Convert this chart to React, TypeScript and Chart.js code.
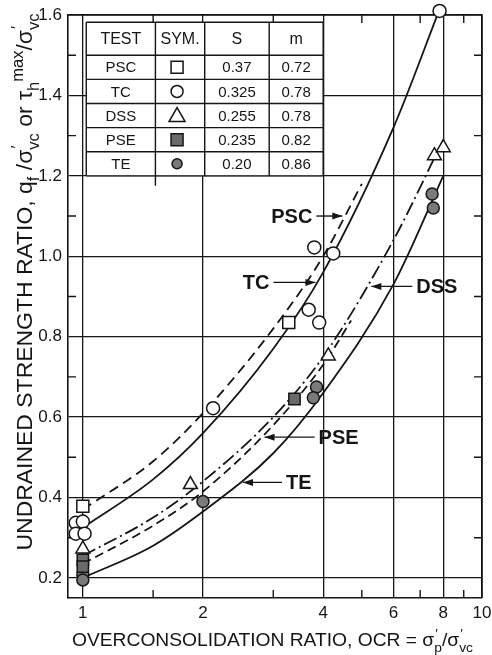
import React, { useEffect, useRef } from "react";
import { Chart, registerables } from "chart.js";

Chart.register(...registerables);

// ---------- axis ticks ----------
const X_TICKS = [1, 2, 4, 6, 8, 10];
const X_MINOR = [1.5, 3, 5, 7, 9];
const Y_TICKS = [0.2, 0.4, 0.6, 0.8, 1.0, 1.2, 1.4, 1.6];
const Y_MINOR = [0.3, 0.5, 0.7, 0.9, 1.1, 1.3, 1.5];

// ---------- table ----------
const TABLE_HEAD = ["TEST", "SYM.", "S", "m"];
const TESTS = ["PSC", "TC", "DSS", "PSE", "TE"];
const S_VALUES = ["0.37", "0.325", "0.255", "0.235", "0.20"];
const M_VALUES = ["0.72", "0.78", "0.78", "0.82", "0.86"];

// ---------- fitted curves ----------
const PSC_CURVE_X = [1, 1.5, 2, 3, 4, 5];
const PSC_CURVE_Y = [0.37, 0.49, 0.61, 0.82, 1.0, 1.18];
const TC_CURVE_X = [1, 1.5, 2, 3, 4, 6, 7.8];
const TC_CURVE_Y = [0.325, 0.445, 0.56, 0.77, 0.96, 1.32, 1.61];
const DSS_CURVE_X = [1, 1.5, 2, 3, 4, 6, 8];
const DSS_CURVE_Y = [0.255, 0.35, 0.44, 0.6, 0.75, 1.04, 1.29];
const PSE_CURVE_X = [1, 1.5, 2, 3, 4, 4.7];
const PSE_CURVE_Y = [0.235, 0.33, 0.415, 0.58, 0.73, 0.84];
const TE_CURVE_X = [1, 1.5, 2, 3, 4, 6, 8];
const TE_CURVE_Y = [0.2, 0.28, 0.365, 0.51, 0.66, 0.93, 1.2];

// ---------- measured points ----------
const PSC_PTS_X = [1.0, 3.28];
const PSC_PTS_Y = [0.378, 0.835];
const TC_PTS_X = [0.96, 1.0, 0.96, 1.01, 2.12, 3.68, 3.91, 3.8, 4.24, 7.83];
const TC_PTS_Y = [0.337, 0.34, 0.31, 0.31, 0.622, 0.867, 0.835, 1.022, 1.007, 1.61];
const DSS_PTS_X = [1.0, 1.86, 4.12, 7.6, 8.0];
const DSS_PTS_Y = [0.272, 0.432, 0.752, 1.25, 1.27];
const PSE_PTS_X = [1.0, 1.0, 3.39];
const PSE_PTS_Y = [0.245, 0.228, 0.645];
const TE_PTS_X = [1.0, 1.0, 2.0, 3.85, 3.78, 7.5, 7.55];
const TE_PTS_Y = [0.208, 0.195, 0.39, 0.675, 0.648, 1.155, 1.12];

// ---------- curve labels (arrow tip on curve) ----------
const LABELS = [
  { text: "PSC", x: 4.52, y: 1.1, side: -1, len: 28 },
  { text: "TC", x: 3.87, y: 0.935, side: -1, len: 44 },
  { text: "DSS", x: 5.22, y: 0.925, side: 1, len: 43 },
  { text: "PSE", x: 2.82, y: 0.55, side: 1, len: 52 },
  { text: "TE", x: 2.49, y: 0.4375, side: 1, len: 41 },
];

// table layout in data coordinates
const TABLE_COLS = [1.02, 1.52, 2.02, 2.93, 4.0];
const TABLE_ROWS = [1.582, 1.5, 1.44, 1.38, 1.32, 1.26, 1.2];

const INK = "#151515";
const FAM = "'Liberation Sans', Arial, sans-serif";

type Seg =
  | { k: "n" | "sub" | "sup"; t: string }
  | { k: "stack"; sup: string; sub: string };

const X_TITLE: Seg[] = [
  { k: "n", t: "OVERCONSOLIDATION RATIO, OCR = σ" },
  { k: "stack", sup: "′", sub: "p" },
  { k: "n", t: "/σ" },
  { k: "stack", sup: "′", sub: "vc" },
];
const Y_TITLE: Seg[] = [
  { k: "n", t: "UNDRAINED STRENGTH RATIO, q" },
  { k: "sub", t: "f" },
  { k: "n", t: " /σ" },
  { k: "stack", sup: "′", sub: "vc" },
  { k: "n", t: " or τ" },
  { k: "sub", t: "h" },
  { k: "sup", t: "max" },
  { k: "n", t: "/σ" },
  { k: "stack", sup: "′", sub: "vc" },
];

const zip = (xs: number[], ys: number[]) => xs.map((x, i) => ({ x, y: ys[i] }));

function measureRich(ctx: CanvasRenderingContext2D, segs: Seg[], size: number) {
  let w = 0;
  for (const s of segs) {
    if (s.k === "n") {
      ctx.font = `${size}px ${FAM}`;
      w += ctx.measureText(s.t).width;
    } else if (s.k === "stack") {
      ctx.font = `${size * 0.72}px ${FAM}`;
      w += Math.max(ctx.measureText(s.sup).width, ctx.measureText(s.sub).width);
    } else {
      ctx.font = `${size * 0.72}px ${FAM}`;
      w += ctx.measureText(s.t).width;
    }
  }
  return w;
}

function drawRich(ctx: CanvasRenderingContext2D, segs: Seg[], size: number) {
  let x = 0;
  ctx.textAlign = "left";
  ctx.textBaseline = "alphabetic";
  for (const s of segs) {
    if (s.k === "n") {
      ctx.font = `${size}px ${FAM}`;
      ctx.fillText(s.t, x, 0);
      x += ctx.measureText(s.t).width;
    } else if (s.k === "stack") {
      ctx.font = `${size * 0.72}px ${FAM}`;
      ctx.fillText(s.sup, x + 1, -size * 0.42);
      ctx.fillText(s.sub, x, size * 0.32);
      x += Math.max(ctx.measureText(s.sup).width, ctx.measureText(s.sub).width);
    } else {
      ctx.font = `${size * 0.72}px ${FAM}`;
      ctx.fillText(s.t, x, s.k === "sub" ? size * 0.32 : -size * 0.42);
      x += ctx.measureText(s.t).width;
    }
  }
}

function placeRich(
  ctx: CanvasRenderingContext2D,
  segs: Seg[],
  size: number,
  cx: number,
  cy: number,
  target: number,
  vertical: boolean
) {
  const w = measureRich(ctx, segs, size);
  const sx = target / w;
  ctx.save();
  ctx.fillStyle = INK;
  ctx.translate(cx, cy);
  if (vertical) ctx.rotate(-Math.PI / 2);
  ctx.scale(sx, 1);
  ctx.translate(-w / 2, 0);
  drawRich(ctx, segs, size);
  ctx.restore();
}

function drawSymbol(ctx: CanvasRenderingContext2D, kind: string, x: number, y: number) {
  ctx.save();
  ctx.lineWidth = 1.5;
  ctx.strokeStyle = INK;
  ctx.beginPath();
  if (kind === "PSC" || kind === "PSE") {
    ctx.rect(x - 6, y - 6, 12, 12);
  } else if (kind === "TC" || kind === "TE") {
    ctx.arc(x, y, kind === "TE" ? 5 : 6, 0, Math.PI * 2);
  } else {
    ctx.moveTo(x, y - 8);
    ctx.lineTo(x + 8, y + 6);
    ctx.lineTo(x - 8, y + 6);
    ctx.closePath();
  }
  ctx.fillStyle = kind === "PSE" ? "#6a6a6a" : kind === "TE" ? "#7a7a7a" : "#fff";
  ctx.fill();
  ctx.stroke();
  ctx.restore();
}

const framePlugin = {
  id: "frame",
  beforeDatasetsDraw(chart: any) {
    const { ctx, chartArea: a, scales } = chart;
    const xs = scales.x;
    const ys = scales.y;
    ctx.save();
    ctx.strokeStyle = INK;
    ctx.lineWidth = 1.6;
    // top + right borders
    ctx.beginPath();
    ctx.moveTo(a.left, a.top);
    ctx.lineTo(a.right, a.top);
    ctx.lineTo(a.right, a.bottom);
    ctx.stroke();
    // minor ticks
    ctx.lineWidth = 1.4;
    ctx.beginPath();
    for (const v of Y_MINOR) {
      const py = ys.getPixelForValue(v);
      ctx.moveTo(a.left, py);
      ctx.lineTo(a.left + 8, py);
      ctx.moveTo(a.right, py);
      ctx.lineTo(a.right - 8, py);
    }
    for (const v of X_MINOR) {
      const px = xs.getPixelForValue(v);
      ctx.moveTo(px, a.bottom);
      ctx.lineTo(px, a.bottom - 8);
      ctx.moveTo(px, a.top);
      ctx.lineTo(px, a.top + 8);
    }
    ctx.stroke();

    // table
    const cols = TABLE_COLS.map((v) => xs.getPixelForValue(v));
    const rows = TABLE_ROWS.map((v) => ys.getPixelForValue(v));
    ctx.fillStyle = "#fff";
    ctx.fillRect(cols[0], rows[0], cols[cols.length - 1] - cols[0], rows[rows.length - 1] - rows[0]);
    ctx.lineWidth = 1.4;
    ctx.beginPath();
    for (const r of rows) {
      ctx.moveTo(cols[0], r);
      ctx.lineTo(cols[cols.length - 1], r);
    }
    for (const c of cols) {
      ctx.moveTo(c, rows[0]);
      ctx.lineTo(c, rows[rows.length - 1]);
    }
    // TEST|SYM divider runs slightly below the table
    ctx.moveTo(cols[1], rows[rows.length - 1]);
    ctx.lineTo(cols[1], rows[rows.length - 1] + 10);
    ctx.stroke();

    ctx.fillStyle = INK;
    ctx.textAlign = "center";
    ctx.textBaseline = "middle";
    ctx.font = `16px ${FAM}`;
    for (let c = 0; c < 4; c++) {
      ctx.fillText(TABLE_HEAD[c], (cols[c] + cols[c + 1]) / 2, (rows[0] + rows[1]) / 2 + 1);
    }
    ctx.font = `15px ${FAM}`;
    for (let r = 0; r < TESTS.length; r++) {
      const cy = (rows[r + 1] + rows[r + 2]) / 2 + 1;
      ctx.fillStyle = INK;
      ctx.fillText(TESTS[r], (cols[0] + cols[1]) / 2, cy);
      ctx.fillText(S_VALUES[r], (cols[2] + cols[3]) / 2, cy);
      ctx.fillText(M_VALUES[r], (cols[3] + cols[4]) / 2, cy);
      drawSymbol(ctx, TESTS[r], (cols[1] + cols[2]) / 2 - 3, cy - 1);
    }
    ctx.restore();
  },
  afterDatasetsDraw(chart: any) {
    const { ctx, scales } = chart;
    ctx.save();
    ctx.strokeStyle = INK;
    ctx.fillStyle = INK;
    ctx.lineWidth = 1.4;
    ctx.font = `bold 20px ${FAM}`;
    ctx.textBaseline = "middle";
    ctx.textAlign = "center";
    for (const l of LABELS) {
      const tx = scales.x.getPixelForValue(l.x);
      const ty = scales.y.getPixelForValue(l.y);
      const tail = tx + l.side * l.len;
      ctx.beginPath();
      ctx.moveTo(tail, ty);
      ctx.lineTo(tx + l.side * 2, ty);
      ctx.stroke();
      const hx = tx + l.side * 2;
      ctx.beginPath();
      ctx.moveTo(hx, ty);
      ctx.lineTo(hx + l.side * 10, ty - 3.5);
      ctx.lineTo(hx + l.side * 10, ty + 3.5);
      ctx.closePath();
      ctx.fill();
      const w = ctx.measureText(l.text).width;
      ctx.fillText(l.text, tail + l.side * (4 + w / 2), ty + 1);
    }
    ctx.restore();
  },
  afterDraw(chart: any) {
    const { ctx } = chart;
    placeRich(ctx, X_TITLE, 19, 272.5, 646, 401, false);
    placeRich(ctx, Y_TITLE, 22, 32, 282, 537, true);
  },
};

export default function App() {
  const ref = useRef<HTMLCanvasElement | null>(null);
  useEffect(() => {
    if (!ref.current) return;
    const curve = (label: string, xs: number[], ys: number[], dash: number[]) => ({
      label,
      data: zip(xs, ys),
      showLine: true,
      borderColor: INK,
      borderWidth: 1.8,
      borderDash: dash,
      pointRadius: 0,
      cubicInterpolationMode: "monotone" as const,
      fill: false,
      order: 2,
    });
    const pts = (label: string, xs: number[], ys: number[], style: string, r: number, bg: string) => ({
      label,
      data: zip(xs, ys),
      showLine: false,
      pointStyle: style,
      pointRadius: r,
      pointBackgroundColor: bg,
      pointBorderColor: INK,
      pointBorderWidth: 1.5,
      clip: false,
      order: 1,
    });
    const chart = new Chart(ref.current, {
      type: "scatter",
      data: {
        datasets: [
          curve("PSC", PSC_CURVE_X, PSC_CURVE_Y, [10, 6]),
          curve("TC", TC_CURVE_X, TC_CURVE_Y, []),
          curve("DSS", DSS_CURVE_X, DSS_CURVE_Y, [14, 4, 2, 4]),
          curve("PSE", PSE_CURVE_X, PSE_CURVE_Y, [9, 5]),
          curve("TE", TE_CURVE_X, TE_CURVE_Y, []),
          pts("PSC pts", PSC_PTS_X, PSC_PTS_Y, "rect", 8.5, "#fff"),
          pts("TC pts", TC_PTS_X, TC_PTS_Y, "circle", 6.5, "#fff"),
          pts("DSS pts", DSS_PTS_X, DSS_PTS_Y, "triangle", 8, "#fff"),
          pts("PSE pts", PSE_PTS_X, PSE_PTS_Y, "rect", 8, "#6a6a6a"),
          pts("TE pts", TE_PTS_X, TE_PTS_Y, "circle", 6, "#7a7a7a"),
        ] as any,
      },
      options: {
        responsive: false,
        animation: false,
        layout: { padding: { top: 15, right: 6, left: 0, bottom: 0 } },
        plugins: { legend: { display: false }, tooltip: { enabled: false } },
        scales: {
          x: {
            type: "logarithmic",
            min: 0.918,
            max: 10,
            afterBuildTicks: (s: any) => {
              s.ticks = X_TICKS.map((v) => ({ value: v }));
            },
            afterFit: (s: any) => {
              s.height = 57;
              s.paddingLeft = 0;
              s.paddingRight = 0;
            },
            ticks: {
              callback: (v: any) => String(v),
              font: { family: FAM, size: 17 },
              color: INK,
              padding: 5,
              maxRotation: 0,
              autoSkip: false,
            },
            grid: { color: INK, lineWidth: 1.3, drawTicks: false },
            border: { color: INK, width: 1.6 },
          },
          y: {
            type: "linear",
            min: 0.15,
            max: 1.6,
            afterBuildTicks: (s: any) => {
              s.ticks = Y_TICKS.map((v) => ({ value: v }));
            },
            afterFit: (s: any) => {
              s.width = 68;
              s.paddingTop = 0;
              s.paddingBottom = 0;
            },
            ticks: {
              callback: (v: any) => Number(v).toFixed(1),
              font: { family: FAM, size: 17 },
              color: INK,
              padding: 6,
            },
            grid: { color: INK, lineWidth: 1.3, drawTicks: false },
            border: { color: INK, width: 1.6 },
          },
        },
      } as any,
      plugins: [framePlugin],
    });
    return () => chart.destroy();
  }, []);
  return (
    <div style={{ position: "absolute", left: 0, top: 0, width: 492, height: 655, background: "#fff" }}>
      <canvas ref={ref} width={492} height={655} style={{ display: "block", width: 492, height: 655 }} />
    </div>
  );
}
